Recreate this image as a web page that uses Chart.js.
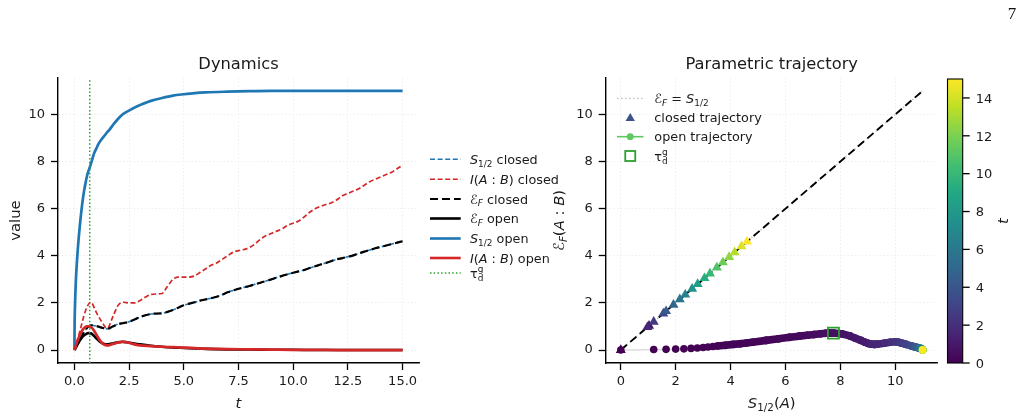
<!DOCTYPE html>
<html>
<head>
<meta charset="utf-8">
<script src="https://cdn.jsdelivr.net/npm/chart.js@4.4.0/dist/chart.umd.min.js"></script>
<style>
html, body { margin: 0; padding: 0; background: #fff; }
#wrap { position: relative; width: 1024px; height: 419px; overflow: hidden; }
canvas { position: absolute; left: 0; top: 0; }
</style>
</head>
<body>
<div id="wrap">
  <canvas id="left" width="1024" height="419"></canvas>
  <canvas id="right" width="1024" height="419"></canvas>
</div>
<script>
// ---- data ----
// open system, fine time grid
const openT = [0, 0.01, 0.02, 0.03, 0.04, 0.05, 0.06, 0.07, 0.08, 0.09, 0.1,
  0.12, 0.14, 0.16, 0.18, 0.2,
  0.25, 0.3, 0.35, 0.4, 0.45, 0.5, 0.55, 0.6, 0.65, 0.7,
  0.8, 0.9, 1.0, 1.1, 1.2, 1.3, 1.4, 1.5, 1.6,
  1.8, 2.0, 2.2, 2.4, 2.6, 2.8, 3.0,
  3.5, 4.0, 4.5, 5.0, 5.5, 6.0,
  7.0, 8.0, 9.0, 10.0, 11.0, 12.0, 13.0, 14.0, 15.0];
const openS = [0, 1.2, 1.65, 2.0, 2.3, 2.56, 2.79, 3.0, 3.18, 3.36, 3.52,
  3.82, 4.1, 4.35, 4.58, 4.8,
  5.3, 5.75, 6.15, 6.5, 6.8, 7.05, 7.28, 7.48, 7.62, 7.75,
  8.05, 8.35, 8.55, 8.75, 8.9, 9.02, 9.13, 9.25, 9.35,
  9.6, 9.82, 10.0, 10.12, 10.22, 10.32, 10.4,
  10.58, 10.7, 10.8, 10.86, 10.91, 10.94,
  10.97, 10.99, 11.0, 11.0, 11.0, 11.0, 11.0, 11.0, 11.0];
const openE = [0, 0.02, 0.03, 0.04, 0.05, 0.07, 0.09, 0.11, 0.13, 0.15, 0.17,
  0.2, 0.24, 0.27, 0.3, 0.33,
  0.41, 0.48, 0.54, 0.59, 0.63, 0.66, 0.69, 0.71, 0.72, 0.72,
  0.69, 0.6, 0.5, 0.41, 0.33, 0.28, 0.25, 0.24, 0.25,
  0.29, 0.33, 0.35, 0.33, 0.3, 0.27, 0.24,
  0.18, 0.14, 0.11, 0.09, 0.07, 0.05,
  0.03, 0.02, 0.01, 0.01, 0, 0, 0, 0, 0];
const openI = [0, 0.03, 0.05, 0.07, 0.1, 0.13, 0.16, 0.19, 0.22, 0.25, 0.28,
  0.33, 0.38, 0.43, 0.48, 0.53,
  0.64, 0.74, 0.82, 0.89, 0.94, 0.98, 1.0, 1.01, 1.01, 1.0,
  0.94, 0.82, 0.66, 0.5, 0.37, 0.27, 0.22, 0.2, 0.21,
  0.27, 0.32, 0.35, 0.33, 0.28, 0.23, 0.2,
  0.17, 0.14, 0.12, 0.1, 0.08, 0.06,
  0.04, 0.03, 0.02, 0.01, 0.01, 0, 0, 0, 0];

// closed system, 0.25 grid
const closedT = [0, 0.25, 0.5, 0.75, 1, 1.25, 1.5, 1.75, 2, 2.25, 2.5, 2.75, 3, 3.25, 3.5, 3.75,
  4, 4.25, 4.5, 4.75, 5, 5.25, 5.5, 5.75, 6, 6.25, 6.5, 6.75, 7, 7.25, 7.5, 7.75,
  8, 8.25, 8.5, 8.75, 9, 9.25, 9.5, 9.75, 10, 10.25, 10.5, 10.75, 11, 11.25, 11.5, 11.75,
  12, 12.25, 12.5, 12.75, 13, 13.25, 13.5, 13.75, 14, 14.25, 14.5, 14.75, 15];
const closedS = [0, 0.45, 0.85, 1.05, 1.02, 0.95, 0.9, 1.0, 1.1, 1.15, 1.2, 1.3, 1.4, 1.48, 1.53, 1.55,
  1.56, 1.62, 1.7, 1.8, 1.9, 1.97, 2.03, 2.1, 2.15, 2.2, 2.26, 2.35, 2.45, 2.53, 2.6, 2.66,
  2.72, 2.79, 2.86, 2.93, 3.0, 3.08, 3.15, 3.22, 3.28, 3.34, 3.4, 3.48, 3.56, 3.63, 3.7, 3.78,
  3.85, 3.9, 3.96, 4.02, 4.1, 4.18, 4.25, 4.32, 4.38, 4.44, 4.5, 4.56, 4.62];
const closedE = closedS.slice(); // the two closed curves coincide
const closedI = [0, 0.8, 1.65, 2.03, 1.6, 1.2, 0.92, 1.4, 1.9, 2.03, 2.0, 2.0, 2.1, 2.25, 2.36, 2.38,
  2.4, 2.7, 3.0, 3.1, 3.1, 3.1, 3.15, 3.3, 3.45, 3.6, 3.7, 3.85, 4.0, 4.15, 4.22, 4.27,
  4.35, 4.5, 4.7, 4.85, 4.95, 5.05, 5.15, 5.3, 5.38, 5.48, 5.65, 5.85, 6.0, 6.1, 6.18, 6.25,
  6.38, 6.55, 6.65, 6.75, 6.85, 7.0, 7.15, 7.25, 7.35, 7.45, 7.55, 7.7, 7.85];

// closed trajectory markers (right panel)
const closedTrajT = [0, 0.83, 1.67, 2.5, 3.33, 4.17, 5.0, 5.83, 6.67, 7.5, 8.33, 9.17, 10.0, 10.83, 11.67, 12.5, 13.33, 14.17, 15.0];
const closedTrajS = [0, 1.03, 0.97, 1.2, 1.55, 1.65, 1.92, 2.15, 2.35, 2.6, 2.8, 3.05, 3.25, 3.5, 3.72, 3.95, 4.15, 4.4, 4.6];
const closedTrajE = [0, 1.03, 0.97, 1.2, 1.55, 1.65, 1.92, 2.15, 2.35, 2.6, 2.8, 3.05, 3.25, 3.5, 3.72, 3.95, 4.15, 4.4, 4.6];

const tauG = 0.7;
const tMax = 15;

const leftXTicks = [0, 2.5, 5, 7.5, 10, 12.5, 15];
const yTicks = [0, 2, 4, 6, 8, 10];
const rightXTicks = [0, 2, 4, 6, 8, 10];
const cbTicks = [0, 2, 4, 6, 8, 10, 12, 14];

// ---- style ----
const BLUE = '#1f77b4', RED = '#d62728', GREEN = '#2ca02c', TXT = '#1a1a1a';
const FONT = 'DejaVu Sans';
const TICK = 13;
const VIR = ['#440154', '#482475', '#414487', '#355f8d', '#2a788e', '#21918c',
  '#22a884', '#44bf70', '#7ad151', '#bddf26', '#fde725'];

function hex(c) { return [1, 3, 5].map(i => parseInt(c.substr(i, 2), 16)); }
function viridis(f) {
  f = Math.max(0, Math.min(1, f));
  const p = f * 10, i = Math.min(9, Math.floor(p)), r = p - i;
  const a = hex(VIR[i]), b = hex(VIR[i + 1]);
  const m = a.map((v, k) => Math.round(v + (b[k] - v) * r));
  return `rgb(${m[0]},${m[1]},${m[2]})`;
}

// rich text: italic, subscripts, stacked sub/sup
const N = s => ({ s });
const I = s => ({ s, it: true });
const SB = (s, it) => ({ s, sb: true, it });
const ST = (b, p) => ({ st: true, b, p });

function fontStr(size, it) { return (it ? 'italic ' : '') + size + 'px "' + FONT + '"'; }

function drawRich(ctx, parts, x, y, size, align) {
  let w = 0;
  const items = [];
  for (const p of parts) {
    if (p.st) {
      ctx.font = fontStr(size * 0.7, false);
      items.push({ x: w, p });
      w += Math.max(ctx.measureText(p.b).width, ctx.measureText(p.p).width);
    } else {
      const fs = p.sb ? size * 0.7 : size;
      ctx.font = fontStr(fs, p.it);
      items.push({ x: w, p, fs });
      w += ctx.measureText(p.s).width;
    }
  }
  const x0 = align === 'center' ? x - w / 2 : align === 'right' ? x - w : x;
  ctx.textAlign = 'left';
  ctx.textBaseline = 'alphabetic';
  for (const it of items) {
    const p = it.p;
    if (p.st) {
      ctx.font = fontStr(size * 0.7, false);
      ctx.fillText(p.b, x0 + it.x, y + size * 0.25);
      ctx.fillText(p.p, x0 + it.x, y - size * 0.45);
    } else {
      ctx.font = fontStr(it.fs, p.it);
      ctx.fillText(p.s, x0 + it.x, p.sb ? y + size * 0.22 : y);
    }
  }
}

function drawHandle(ctx, h, x0, x1, y) {
  ctx.save();
  if (h.color) {
    ctx.strokeStyle = h.color;
    ctx.lineWidth = h.w;
    ctx.setLineDash(h.dash || []);
    ctx.beginPath(); ctx.moveTo(x0, y); ctx.lineTo(x1, y); ctx.stroke();
  }
  ctx.setLineDash([]);
  const cx = (x0 + x1) / 2;
  if (h.marker === 'dot') {
    ctx.fillStyle = h.mcolor; ctx.beginPath(); ctx.arc(cx, y, 3.4, 0, Math.PI * 2); ctx.fill();
  } else if (h.marker === 'tri') {
    const r = 5.4;
    ctx.fillStyle = h.mcolor; ctx.beginPath();
    for (let k = 0; k < 3; k++) {
      const a = k * 2 * Math.PI / 3;
      const px = cx + Math.sin(a) * r, py = y + 1 - Math.cos(a) * r;
      k ? ctx.lineTo(px, py) : ctx.moveTo(px, py);
    }
    ctx.closePath(); ctx.fill();
  } else if (h.marker === 'sq') {
    ctx.strokeStyle = h.mcolor; ctx.lineWidth = 1.8; ctx.strokeRect(cx - 5, y - 5, 10, 10);
  }
  ctx.restore();
}

function drawLegend(ctx, items, rows, hx0, hx1, tx, size) {
  items.forEach((it, i) => {
    drawHandle(ctx, it, hx0, hx1, rows[i]);
    ctx.fillStyle = TXT;
    drawRich(ctx, it.label, tx, rows[i] + size * 0.36, size, 'left');
  });
}

const leftLegend = [
  { color: BLUE, w: 1.6, dash: [5, 2.6], label: [I('S'), SB('1/2'), N(' closed')] },
  { color: RED, w: 1.6, dash: [5, 2.6], label: [I('I'), N('('), I('A'), N(' : '), I('B'), N(') closed')] },
  { color: '#000', w: 2.2, dash: [8, 4], label: [I('ℰ'), SB('F', true), N(' closed')] },
  { color: '#000', w: 2.6, label: [I('ℰ'), SB('F', true), N(' open')] },
  { color: BLUE, w: 2.6, label: [I('S'), SB('1/2'), N(' open')] },
  { color: RED, w: 2.6, label: [I('I'), N('('), I('A'), N(' : '), I('B'), N(') open')] },
  { color: GREEN, w: 1.5, dash: [1.5, 2.2], label: [N('τ'), ST('d', 'g')] }
];
const leftLegendRows = [159.3, 179.3, 199, 218.5, 238.5, 258, 273];

const rightLegend = [
  { color: '#bdbdbd', w: 1.2, dash: [1.5, 2.5], label: [I('ℰ'), SB('F', true), N(' = '), I('S'), SB('1/2')] },
  { marker: 'tri', mcolor: '#3b528b', label: [N('closed trajectory')] },
  { color: '#5ec962', w: 1.6, marker: 'dot', mcolor: '#5ec962', label: [N('open trajectory')] },
  { marker: 'sq', mcolor: GREEN, label: [N('τ'), ST('d', 'g')] }
];
const rightLegendRows = [98.3, 117.3, 136.7, 156];

// ---- shared axis setup ----
function axis(min, max, ticks, fmt, isX, box) {
  return {
    type: 'linear', min, max,
    afterBuildTicks: s => { s.ticks = ticks.map(v => ({ value: v })); },
    afterFit: s => { if (isX) s.height = 419 - box.bottom; else s.width = box.yw; },
    grid: { color: '#e6e6e6', lineWidth: 0.8, tickLength: 7, tickColor: '#000', tickWidth: 1.3, tickBorderDash: [] },
    border: { color: '#000', width: 1.4, dash: [1.2, 2.4] },
    ticks: { font: { family: FONT, size: TICK }, color: TXT, padding: isX ? 4 : 6, maxRotation: 0, autoSkip: false, callback: fmt }
  };
}
const baseOpts = {
  responsive: false, animation: false, events: [],
  plugins: { legend: { display: false }, tooltip: { enabled: false }, title: { display: false } }
};
function pts(xs, ys) { return xs.map((x, i) => ({ x, y: ys[i] })); }

// ---- left: dynamics ----
const yMin = -0.55, yMax = 11.55;
const leftBox = { bottom: 363, yw: 58 };
const leftSets = [
  { data: pts(closedT, closedS), borderColor: BLUE, borderWidth: 1.6, borderDash: [5, 2.6] },
  { data: pts(closedT, closedI), borderColor: RED, borderWidth: 1.7, borderDash: [5, 2.6] },
  { data: pts(closedT, closedE), borderColor: '#000', borderWidth: 2.2, borderDash: [8, 4] },
  { data: pts(openT, openE), borderColor: '#000', borderWidth: 2.6 },
  { data: pts(openT, openS), borderColor: BLUE, borderWidth: 2.7 },
  { data: pts(openT, openI), borderColor: RED, borderWidth: 2.7 },
  { data: [{ x: tauG, y: yMin }, { x: tauG, y: yMax }], borderColor: GREEN, borderWidth: 1.5, borderDash: [1.5, 2.2], cubicInterpolationMode: 'default' }
].map((d, i) => Object.assign({ showLine: true, pointRadius: 0, cubicInterpolationMode: 'monotone', order: -i }, d));

const leftDecor = {
  id: 'leftDecor',
  afterDraw(chart) {
    const ctx = chart.ctx, a = chart.chartArea, cx = (a.left + a.right) / 2;
    ctx.save();
    ctx.fillStyle = TXT;
    drawRich(ctx, [N('Dynamics')], cx, 69, 16.3, 'center');
    drawRich(ctx, [I('t')], cx, 408, 14.8, 'center');
    ctx.save();
    ctx.translate(20, (a.top + a.bottom) / 2); ctx.rotate(-Math.PI / 2);
    drawRich(ctx, [N('value')], 0, 0, 14.8, 'center');
    ctx.restore();
    drawLegend(ctx, leftLegend, leftLegendRows, 430, 460.7, 470, 12.8);
    ctx.restore();
  }
};

new Chart(document.getElementById('left'), {
  type: 'scatter',
  data: { datasets: leftSets },
  options: Object.assign({}, baseOpts, {
    layout: { padding: { left: 0, top: 78, right: 1024 - 419, bottom: 0 } },
    scales: {
      x: axis(-0.75, 15.75, leftXTicks, v => v.toFixed(1), true, leftBox),
      y: axis(yMin, yMax, yTicks, v => String(v), false, leftBox)
    }
  }),
  plugins: [leftDecor]
});

// ---- right: parametric trajectory ----
const sMax = Math.max(...openS);
const tauIdx = openT.indexOf(tauG);
const rightBox = { bottom: 363, yw: 45.7 };
const rightSets = [
  { data: [{ x: 0, y: 0 }, { x: sMax, y: sMax }], borderColor: '#bdbdbd', borderWidth: 1.2, borderDash: [1.5, 2.5] },
  { data: [{ x: 0, y: 0 }, { x: sMax, y: sMax }], borderColor: '#000', borderWidth: 1.9, borderDash: [8, 4.5] },
  {
    data: pts(openS, openE), borderColor: '#d9d9d9', borderWidth: 1.3,
    borderCapStyle: 'round', borderJoinStyle: 'round',
    segment: {
      borderColor: c => openT[c.p0DataIndex] < 0.1 ? '#d9d9d9' : viridis(openT[c.p0DataIndex] / tMax),
      borderWidth: c => openT[c.p0DataIndex] < 0.1 ? 1.3 : 7.6
    },
    pointRadius: 3.8, pointBorderWidth: 0,
    pointBackgroundColor: c => viridis(openT[c.dataIndex] / tMax)
  },
  {
    data: pts(closedTrajS, closedTrajE), showLine: false, pointStyle: 'triangle',
    pointRadius: 5.8, pointBorderWidth: 0,
    pointBackgroundColor: c => viridis(closedTrajT[c.dataIndex] / tMax)
  },
  {
    data: [{ x: openS[tauIdx], y: openE[tauIdx] }], showLine: false, pointStyle: 'rect',
    pointRadius: 7.8, pointBorderWidth: 1.8, pointBorderColor: GREEN, pointBackgroundColor: 'rgba(0,0,0,0)'
  }
].map((d, i) => Object.assign({ showLine: true, pointRadius: 0, order: -i }, d));

const rightDecor = {
  id: 'rightDecor',
  afterDraw(chart) {
    const ctx = chart.ctx, a = chart.chartArea, cx = (a.left + a.right) / 2, cy = (a.top + a.bottom) / 2;
    ctx.save();
    ctx.fillStyle = TXT;
    drawRich(ctx, [N('Parametric trajectory')], cx, 69, 16.3, 'center');
    drawRich(ctx, [I('S'), SB('1/2'), N('('), I('A'), N(')')], cx, 408, 14.8, 'center');
    ctx.save();
    ctx.translate(563.5, cy); ctx.rotate(-Math.PI / 2);
    drawRich(ctx, [I('ℰ'), SB('F', true), N('('), I('A'), N(' : '), I('B'), N(')')], 0, 0, 14.8, 'center');
    ctx.restore();
    drawLegend(ctx, rightLegend, rightLegendRows, 617, 643.5, 654.3, 12.8);

    // colorbar
    const cbL = 947.5, cbR = 962.7, cbT = 79, cbB = 363;
    const g = ctx.createLinearGradient(0, cbB, 0, cbT);
    VIR.forEach((c, i) => g.addColorStop(i / 10, c));
    ctx.fillStyle = g;
    ctx.fillRect(cbL, cbT, cbR - cbL, cbB - cbT);
    ctx.strokeStyle = '#000'; ctx.lineWidth = 1.1;
    ctx.strokeRect(cbL, cbT, cbR - cbL, cbB - cbT);
    ctx.lineWidth = 1.3;
    cbTicks.forEach(v => {
      const y = cbB - (v / tMax) * (cbB - cbT);
      ctx.beginPath(); ctx.moveTo(cbR, y); ctx.lineTo(cbR + 7, y); ctx.stroke();
      ctx.fillStyle = TXT;
      drawRich(ctx, [N(String(v))], cbR + 13, y + 4.7, TICK, 'left');
    });
    ctx.save();
    ctx.translate(1008, (cbT + cbB) / 2); ctx.rotate(-Math.PI / 2);
    drawRich(ctx, [I('t')], 0, 0, 14.8, 'center');
    ctx.restore();

    // page number
    ctx.fillStyle = '#111';
    ctx.font = '17px "Liberation Serif"';
    ctx.textAlign = 'center';
    ctx.fillText('7', 1012, 19);
    ctx.restore();
  }
};

new Chart(document.getElementById('right'), {
  type: 'scatter',
  data: { datasets: rightSets },
  options: Object.assign({}, baseOpts, {
    layout: { padding: { left: 605.7 - 45.7, top: 78, right: 1024 - 937.7, bottom: 0 } },
    scales: {
      x: axis(-0.55, 11.55, rightXTicks, v => String(v), true, rightBox),
      y: axis(yMin, yMax, yTicks, v => String(v), false, rightBox)
    }
  }),
  plugins: [rightDecor]
});
</script>
</body>
</html>
